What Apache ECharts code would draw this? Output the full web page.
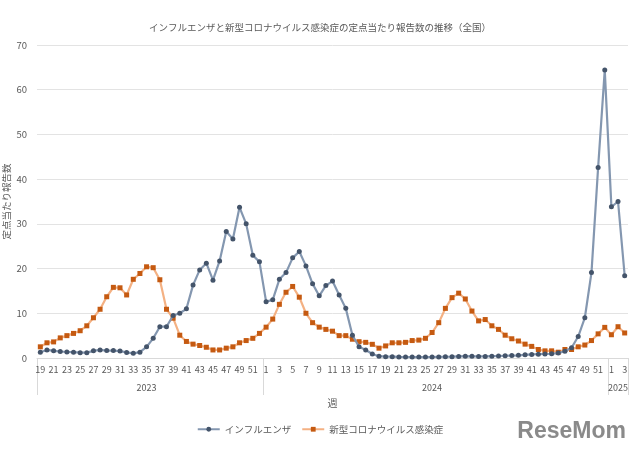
<!DOCTYPE html>
<html>
<head>
<meta charset="utf-8">
<script src="https://cdn.jsdelivr.net/npm/echarts@6/dist/echarts.min.js"></script>
<style>html,body{margin:0;padding:0;background:#fff}#c{width:640px;height:455px}</style>
</head>
<body>
<div id="c"></div>
<script>
// Week categories
const weeks2023 = [19,20,21,22,23,24,25,26,27,28,29,30,31,32,33,34,35,36,37,38,39,40,41,42,43,44,45,46,47,48,49,50,51,52];
const weeks2024 = [1,2,3,4,5,6,7,8,9,10,11,12,13,14,15,16,17,18,19,20,21,22,23,24,25,26,27,28,29,30,31,32,33,34,35,36,37,38,39,40,41,42,43,44,45,46,47,48,49,50,51,52];
const weeks2025 = [1,2,3];
const years = ['2023','2024','2025'];

// Influenza (per sentinel)
const flu2023 = [1.3,1.8,1.6,1.45,1.35,1.3,1.2,1.2,1.6,1.8,1.65,1.65,1.55,1.25,1.05,1.3,2.5,4.4,7.0,7.0,9.5,10.0,11.0,16.3,19.7,21.2,17.4,21.7,28.3,26.6,33.7,30.0,23.0,21.5];
const flu2024 = [12.6,13.0,17.6,19.1,22.4,23.8,20.6,16.6,13.9,16.2,17.2,14.1,11.1,5.1,2.5,1.8,0.9,0.4,0.3,0.3,0.25,0.22,0.2,0.2,0.2,0.22,0.25,0.28,0.3,0.35,0.4,0.38,0.35,0.35,0.4,0.45,0.5,0.55,0.6,0.7,0.8,0.85,0.9,0.95,1.1,1.5,2.3,4.8,9.0,19.1,42.6,64.4];
const flu2025 = [33.8,35.0,18.4];

// COVID-19 (per sentinel)
const covid2023 = [2.5,3.4,3.6,4.5,5.0,5.5,6.1,7.2,9.0,10.9,13.7,15.8,15.7,14.1,17.6,18.9,20.4,20.2,17.5,10.9,8.9,5.1,3.7,3.1,2.8,2.4,1.8,1.8,2.2,2.5,3.4,3.9,4.4,5.5];
const covid2024 = [6.9,8.7,12.0,14.7,16.0,13.6,10.0,7.9,6.9,6.4,6.0,5.0,5.0,4.2,3.65,3.5,3.06,2.2,2.7,3.4,3.4,3.5,3.9,4.0,4.4,5.7,7.9,11.1,13.5,14.5,13.2,10.5,8.3,8.6,7.2,6.4,5.1,4.3,3.8,3.1,2.6,1.9,1.6,1.6,1.3,1.9,1.9,2.5,2.9,3.9,5.4,6.85];
const covid2025 = [5.2,7.0,5.6];

const yTicks = [0,10,20,30,40,50,60,70];

const weekLabels = [...weeks2023, ...weeks2024, ...weeks2025].map(String);
const fluData = [...flu2023, ...flu2024, ...flu2025];
const covidData = [...covid2023, ...covid2024, ...covid2025];

// year axis: label at middle of each year block, ticks at block boundaries
const blocks = [weeks2023.length, weeks2024.length, weeks2025.length];
const yearLabels = new Array(weekLabels.length).fill('');
const boundaries = [0];
let acc = 0;
blocks.forEach((n, i) => {
  yearLabels[acc + Math.floor((n - 1) / 2)] = years[i];
  acc += n;
  boundaries.push(acc);
});

const FONT = '"Noto Sans CJK JP", "Noto Sans", sans-serif';
const chart = echarts.init(document.getElementById('c'), null, {renderer: 'canvas'});
chart.setOption({
  animation: false,
  backgroundColor: '#ffffff',
  title: {
    text: 'インフルエンザと新型コロナウイルス感染症の定点当たり報告数の推移（全国）',
    left: 'center', top: 18,
    textStyle: {fontFamily: FONT, fontSize: 9.5, fontWeight: 'normal', color: '#595959'}
  },
  legend: {
    bottom: 16, left: 'center',
    itemWidth: 22, itemHeight: 6, itemGap: 10,
    textStyle: {fontFamily: FONT, fontSize: 9.5, color: '#595959'},
    data: ['インフルエンザ', '新型コロナウイルス感染症']
  },
  grid: {left: 37, right: 12, top: 45, bottom: 97, containLabel: false, outerBoundsMode: 'none'},
  xAxis: [{
    type: 'category',
    data: weekLabels,
    boundaryGap: true,
    name: '週',
    nameLocation: 'middle',
    nameGap: 40,
    nameMoveOverlap: false,
    nameTextStyle: {fontFamily: FONT, fontSize: 10, color: '#595959'},
    axisLine: {show: true, lineStyle: {color: '#d9d9d9'}},
    axisTick: {show: false},
    axisLabel: {interval: 1, margin: 7, fontFamily: FONT, fontSize: 9, color: '#595959'}
  }, {
    type: 'category',
    data: yearLabels,
    boundaryGap: true,
    position: 'bottom',
    axisLine: {show: false},
    axisTick: {
      show: true, length: 37,
      interval: (i) => boundaries.includes(i),
      lineStyle: {color: '#d9d9d9'}
    },
    axisLabel: {interval: 0, margin: 25, fontFamily: FONT, fontSize: 9, color: '#595959'}
  }],
  yAxis: {
    type: 'value',
    min: yTicks[0], max: yTicks[yTicks.length - 1], interval: 10,
    name: '定点当たり報告数',
    nameLocation: 'middle',
    nameGap: 26,
    nameMoveOverlap: false,
    nameTextStyle: {fontFamily: FONT, fontSize: 9.5, color: '#595959'},
    axisLine: {show: false},
    axisTick: {show: false},
    axisLabel: {margin: 10, fontFamily: FONT, fontSize: 9.5, color: '#595959'},
    splitLine: {lineStyle: {color: '#e3e3e3'}}
  },
  series: [{
    name: 'インフルエンザ',
    type: 'line',
    xAxisIndex: 0,
    data: fluData,
    symbol: 'circle', symbolSize: 5,
    showSymbol: true, showAllSymbol: true,
    lineStyle: {color: '#8497b0', width: 2.2},
    itemStyle: {color: '#44546a'},
    z: 3
  }, {
    name: '新型コロナウイルス感染症',
    type: 'line',
    xAxisIndex: 0,
    data: covidData,
    symbol: 'rect', symbolSize: 5,
    showSymbol: true, showAllSymbol: true,
    lineStyle: {color: '#f4b183', width: 2.2},
    itemStyle: {color: '#c55a11'},
    z: 2
  }],
  graphic: [{
    type: 'text', right: 14, bottom: 12,
    style: {text: 'ReseMom', fontFamily: '"Liberation Sans", Arial, sans-serif', fontSize: 23, fontWeight: 'bold', fill: '#8a8a8a'}
  }]
});
</script>
</body>
</html>
